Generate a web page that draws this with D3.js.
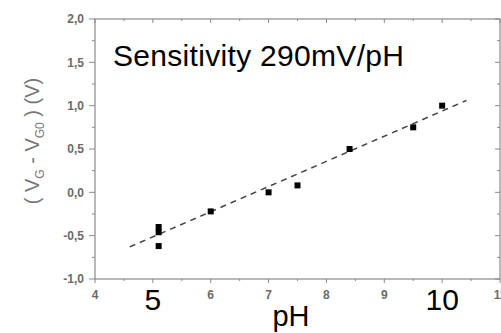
<!DOCTYPE html>
<html>
<head>
<meta charset="utf-8">
<script src="https://cdn.jsdelivr.net/npm/d3@7"></script>
<style>
  html, body { margin: 0; padding: 0; background: #fff; }
  svg { display: block; }
</style>
</head>
<body>
<svg id="chart" width="501" height="333"></svg>
<script>
// measured points (pH, gate voltage shift in V)
const phValues = [5.1, 5.1, 5.1, 6.0, 7.0, 7.5, 8.4, 9.5, 10.0];
const voltValues = [-0.40, -0.46, -0.62, -0.22, 0.0, 0.08, 0.5, 0.75, 1.0];

// linear fit, start and end points
const fitPh = [4.6, 10.42];
const fitVolt = [-0.63, 1.06];

// axis ticks
const xTicks = [4, 6, 7, 8, 9, 11];
const xBigLabels = [5, 10];
const yTicks = [-1.0, -0.5, 0.0, 0.5, 1.0, 1.5, 2.0];

const svg = d3.select('#chart');
const plotLeft = 95, plotRight = 500, plotTop = 19, plotBottom = 279;

const x = d3.scaleLinear().domain([4, 11]).range([plotLeft, plotRight]);
const y = d3.scaleLinear().domain([-1, 2]).range([plotBottom, plotTop]);

const axisColor = '#8a8a8a';
const labelColor = '#6a6a6a';
const fmt = v => d3.format('.1f')(v).replace('.', ',').replace('−', '-');

// frame
svg.append('rect')
  .attr('x', plotLeft).attr('y', plotTop)
  .attr('width', plotRight - plotLeft).attr('height', plotBottom - plotTop)
  .attr('fill', 'none').attr('stroke', axisColor).attr('stroke-width', 1.2);

// ticks (major every 1 / 0.5, minor in between)
const xMajor = d3.range(4, 11.01, 1);
const xMinor = d3.range(4.5, 11, 1);
const yMajor = d3.range(-1, 2.01, 0.5);
const yMinor = d3.range(-0.75, 2, 0.5);

const ticks = svg.append('g').attr('stroke', axisColor).attr('stroke-width', 1);
xMajor.forEach(v => {
  ticks.append('line').attr('x1', x(v)).attr('x2', x(v)).attr('y1', plotBottom).attr('y2', plotBottom + 4);
  ticks.append('line').attr('x1', x(v)).attr('x2', x(v)).attr('y1', plotTop).attr('y2', plotTop + 4);
});
xMinor.forEach(v => {
  ticks.append('line').attr('x1', x(v)).attr('x2', x(v)).attr('y1', plotBottom).attr('y2', plotBottom + 2);
  ticks.append('line').attr('x1', x(v)).attr('x2', x(v)).attr('y1', plotTop).attr('y2', plotTop + 2);
});
yMajor.forEach(v => {
  ticks.append('line').attr('x1', plotLeft - 6).attr('x2', plotLeft).attr('y1', y(v)).attr('y2', y(v));
  ticks.append('line').attr('x1', plotRight - 5).attr('x2', plotRight).attr('y1', y(v)).attr('y2', y(v));
});
yMinor.forEach(v => {
  ticks.append('line').attr('x1', plotLeft - 3).attr('x2', plotLeft).attr('y1', y(v)).attr('y2', y(v));
  ticks.append('line').attr('x1', plotRight - 3).attr('x2', plotRight).attr('y1', y(v)).attr('y2', y(v));
});

// small tick labels
svg.append('g').selectAll('text').data(xTicks).enter().append('text')
  .attr('x', d => x(d)).attr('y', plotBottom + 20)
  .attr('text-anchor', 'middle')
  .style('font', 'bold 12px "Liberation Sans", Arial, sans-serif')
  .style('fill', labelColor)
  .text(d => d);

svg.append('g').selectAll('text').data(yTicks).enter().append('text')
  .attr('x', plotLeft - 11).attr('y', d => y(d)).attr('dy', '0.36em')
  .attr('text-anchor', 'end')
  .style('font', 'bold 12px "Liberation Sans", Arial, sans-serif')
  .style('fill', labelColor)
  .text(d => fmt(d));

// big overlaid labels
svg.append('g').selectAll('text').data(xBigLabels).enter().append('text')
  .attr('x', d => x(d)).attr('y', 310)
  .attr('text-anchor', 'middle')
  .style('font', '30px "Liberation Sans", Arial, sans-serif')
  .style('fill', '#000')
  .text(d => d);

svg.append('text')
  .attr('x', 291).attr('y', 326)
  .attr('text-anchor', 'middle')
  .style('font', '29px "Liberation Sans", Arial, sans-serif')
  .text('pH');

svg.append('text')
  .attr('x', 113).attr('y', 66)
  .attr('textLength', 291)
  .style('font', '30px "Liberation Sans", Arial, sans-serif')
  .text('Sensitivity 290mV/pH');

// y axis title
const yTitle = svg.append('text')
  .attr('transform', 'translate(39,141) rotate(-90)')
  .attr('text-anchor', 'middle')
  .style('font', '20px "Liberation Sans", Arial, sans-serif')
  .style('fill', '#777');
yTitle.append('tspan').text('( V');
yTitle.append('tspan').attr('dy', 5).style('font-size', '12px').text('G');
yTitle.append('tspan').attr('dy', -5).text(' - V');
yTitle.append('tspan').attr('dy', 5).style('font-size', '12px').text('G0');
yTitle.append('tspan').attr('dy', -5).text(' ) (V)');

// fit line
const fitData = fitPh.map((p, i) => [p, fitVolt[i]]);
svg.append('path')
  .datum(fitData)
  .attr('d', d3.line().x(d => x(d[0])).y(d => y(d[1])))
  .attr('fill', 'none')
  .attr('stroke', '#444')
  .attr('stroke-width', 1.5)
  .attr('stroke-dasharray', '6,5');

// data points
const pts = phValues.map((p, i) => [p, voltValues[i]]);
svg.append('g').selectAll('rect').data(pts).enter().append('rect')
  .attr('x', d => x(d[0]) - 3).attr('y', d => y(d[1]) - 3)
  .attr('width', 6).attr('height', 6)
  .attr('fill', '#000');
</script>
</body>
</html>
